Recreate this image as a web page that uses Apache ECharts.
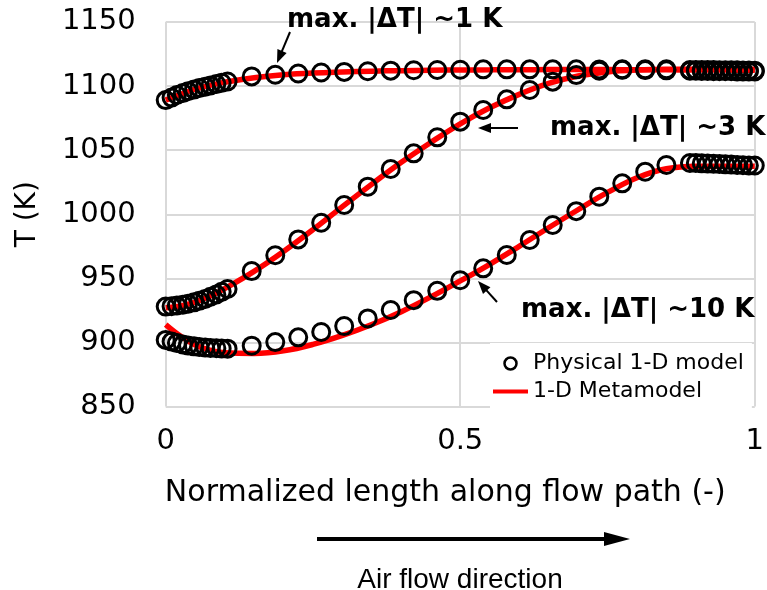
<!DOCTYPE html>
<html>
<head>
<meta charset="utf-8">
<script src="https://cdn.jsdelivr.net/npm/echarts@6/dist/echarts.min.js"></script>
<style>html,body{margin:0;padding:0;background:#fff;}#chart{width:767px;height:590px;}</style>
</head>
<body>
<div id="chart"></div>
<script>
// Physical 1-D model sample positions (normalized length)
const xPhys = [0, 0.01, 0.019, 0.029, 0.038, 0.048, 0.057, 0.067, 0.076, 0.086, 0.095, 0.105,
  0.146, 0.186, 0.225, 0.264, 0.303, 0.343, 0.382, 0.421, 0.461, 0.5, 0.539, 0.579, 0.618, 0.657, 0.697, 0.736, 0.775, 0.814, 0.85,
  0.89, 0.9, 0.91, 0.92, 0.93, 0.94, 0.95, 0.96, 0.97, 0.98, 0.99, 1.0];
// Physical model temperatures (K)
const tTopPhys = [1089, 1091, 1093, 1094.5, 1096, 1097.2, 1098.4, 1099.5, 1100.5, 1101.5, 1102.5, 1103.5,
  1107.5, 1108.8, 1109.8, 1110.5, 1111, 1111.5, 1112, 1112.3, 1112.5, 1112.7, 1113, 1113, 1113, 1113, 1113, 1112.8, 1112.6, 1112.4, 1112.2,
  1112, 1112, 1111.8, 1111.8, 1111.6, 1111.6, 1111.5, 1111.5, 1111.4, 1111.4, 1111.3, 1111.3];
const tMidPhys = [928, 928.3, 928.8, 929.5, 930.3, 931.3, 932.5, 934, 935.7, 937.5, 939.5, 941.7,
  955.7, 968, 980.4, 993.4, 1007.2, 1021.5, 1035.3, 1047.5, 1060, 1072.2, 1081.3, 1089.6, 1096.9, 1103.4, 1108.5, 1112, 1113, 1113, 1113,
  1112.5, 1112.5, 1112.5, 1112.4, 1112.4, 1112.3, 1112.3, 1112.2, 1112.2, 1112.1, 1112.1, 1112];
const tBotPhys = [902, 900.7, 899.5, 898.5, 897.6, 897, 896.4, 896, 895.7, 895.5, 895.3, 895.2,
  897.5, 900.3, 904, 908.2, 912.8, 918.8, 925.3, 933, 940.3, 948.5, 957.8, 968.2, 979.9, 991.6, 1002.4, 1013.7, 1024.1, 1033.2, 1038.4,
  1040, 1040, 1039.7, 1039.5, 1039.3, 1039.1, 1038.9, 1038.7, 1038.5, 1038.3, 1038.1, 1038];

// 1-D Metamodel curves
const xMeta = [0, 0.025, 0.05, 0.075, 0.1, 0.15, 0.2, 0.25, 0.3, 0.35, 0.4, 0.45, 0.5, 0.55, 0.6, 0.65, 0.7, 0.75, 0.8, 0.85, 0.9, 0.95, 1.0];
const tTopMeta = [1089, 1093.5, 1097.5, 1100.5, 1103, 1106.5, 1108.8, 1110.2, 1111, 1111.6, 1112, 1112.3, 1112.5, 1112.6, 1112.7, 1112.8, 1112.8, 1112.8, 1112.7, 1112.6, 1112.5, 1112.4, 1112.3];
const tMidMeta = [927, 928.5, 931.5, 936, 942, 955.5, 971, 988, 1006, 1023.5, 1040.5, 1056, 1070.5, 1083, 1093.5, 1102, 1107.8, 1111, 1112.5, 1113, 1113, 1113, 1113];
const tBotMeta = [914, 905, 898, 894, 892, 891.5, 893.5, 898.5, 905.5, 914, 924, 935.5, 948, 961, 975, 989.5, 1003.5, 1017, 1028.5, 1035.5, 1037.5, 1037.5, 1037.5];

const yTicks = { min: 850, max: 1150, interval: 50 };
const xTicks = { min: 0, max: 1, interval: 0.5 };

const physName = 'Physical 1-D model';
const metaName = '1-D Metamodel';
const annotations = ['max. |\u0394T| ~1 K', 'max. |\u0394T| ~3 K', 'max. |\u0394T| ~10 K'];

const zip = (xs, ys) => xs.map((x, i) => [x, ys[i]]);

const chart = echarts.init(document.getElementById('chart'));

const lineSeries = (data) => ({
  type: 'line', name: metaName, data: data, smooth: 0.4, showSymbol: false, symbol: 'none',
  lineStyle: { color: '#ff0000', width: 5.5 }, itemStyle: { color: '#ff0000' }, z: 2, silent: true
});
const scatterSeries = (data) => ({
  type: 'scatter', name: physName, data: data, symbol: 'circle', symbolSize: 17,
  itemStyle: { color: 'rgba(255,255,255,0)', borderColor: '#000', borderWidth: 3, opacity: 1 }, z: 3, silent: true
});

function arrow(x1, y1, x2, y2, w, headLen, headHalf) {
  const dx = x2 - x1, dy = y2 - y1, len = Math.sqrt(dx * dx + dy * dy);
  const ux = dx / len, uy = dy / len, px = -uy, py = ux;
  const bx = x2 - ux * headLen, by = y2 - uy * headLen;
  return [
    { type: 'line', z: 10, shape: { x1: x1, y1: y1, x2: bx + ux * 1, y2: by + uy * 1 }, style: { stroke: '#000', lineWidth: w } },
    { type: 'polygon', z: 10, shape: { points: [[x2, y2], [bx + px * headHalf, by + py * headHalf], [bx - px * headHalf, by - py * headHalf]] }, style: { fill: '#000' } }
  ];
}

const bold = 'bold 26px "DejaVu Sans"';
const graphics = [].concat(
  [
    { type: 'text', z: 10, style: { text: annotations[0], x: 287, y: 20, font: bold, fill: '#000', align: 'left', verticalAlign: 'middle' } },
    { type: 'text', z: 10, style: { text: annotations[1], x: 550, y: 128, font: bold, fill: '#000', align: 'left', verticalAlign: 'middle' } },
    { type: 'text', z: 10, style: { text: annotations[2], x: 521, y: 310, font: bold, fill: '#000', align: 'left', verticalAlign: 'middle' } },
    { type: 'text', z: 10, style: { text: 'Air flow direction', x: 460, y: 580, font: '28px "Liberation Sans"', fill: '#000', align: 'center', verticalAlign: 'middle' } }
  ],
  arrow(290, 32, 277, 63, 2, 13, 5),
  arrow(518, 128, 478, 128, 2, 13, 5),
  arrow(497, 302, 478, 281, 2, 13, 5),
  arrow(317, 539, 630, 539, 4, 26, 7)
);

const axisFont = { fontFamily: 'DejaVu Sans', fontSize: 29, color: '#000' };

chart.setOption({
  animation: false,
  backgroundColor: '#fff',
  grid: { left: 165.7, right: 11.3, top: 21.9, bottom: 183.4, containLabel: false },
  xAxis: {
    type: 'value', min: xTicks.min, max: xTicks.max, interval: xTicks.interval,
    name: 'Normalized length along flow path (-)', nameLocation: 'middle', nameGap: 72,
    nameTextStyle: Object.assign({}, axisFont, { fontSize: 30, padding: [0, 30, 0, 0] }),
    axisLine: { show: false }, axisTick: { show: false },
    axisLabel: Object.assign({}, axisFont, { margin: 20, formatter: (v) => String(v) }),
    splitLine: { show: true, lineStyle: { color: '#d9d9d9', width: 2 } }
  },
  yAxis: {
    type: 'value', min: yTicks.min, max: yTicks.max, interval: yTicks.interval,
    name: 'T (K)', nameLocation: 'middle', nameGap: 124, nameRotate: 90,
    nameTextStyle: Object.assign({}, axisFont, { fontSize: 28 }),
    axisLine: { show: false }, axisTick: { show: false },
    axisLabel: Object.assign({}, axisFont, { margin: 30, formatter: (v) => String(v) }),
    splitLine: { show: true, lineStyle: { color: '#d9d9d9', width: 2 } }
  },
  legend: {
    orient: 'vertical', left: 490, top: 343, padding: [9, 8, 8, 3], backgroundColor: '#fff',
    itemWidth: 35, itemHeight: 12, itemGap: 5,
    textStyle: { fontFamily: 'DejaVu Sans', fontSize: 22, color: '#000', lineHeight: 23 },
    data: [
      { name: physName, icon: 'circle', itemStyle: { color: 'rgba(255,255,255,0)', borderColor: '#000', borderWidth: 2.5 } },
      { name: metaName, icon: 'path://M0,0L35,0L35,4L0,4Z', itemStyle: { color: '#ff0000' } }
    ]
  },
  series: [
    lineSeries(zip(xMeta, tTopMeta)),
    lineSeries(zip(xMeta, tMidMeta)),
    lineSeries(zip(xMeta, tBotMeta)),
    scatterSeries(zip(xPhys, tTopPhys)),
    scatterSeries(zip(xPhys, tMidPhys)),
    scatterSeries(zip(xPhys, tBotPhys))
  ],
  graphic: graphics
});
</script>
</body>
</html>
